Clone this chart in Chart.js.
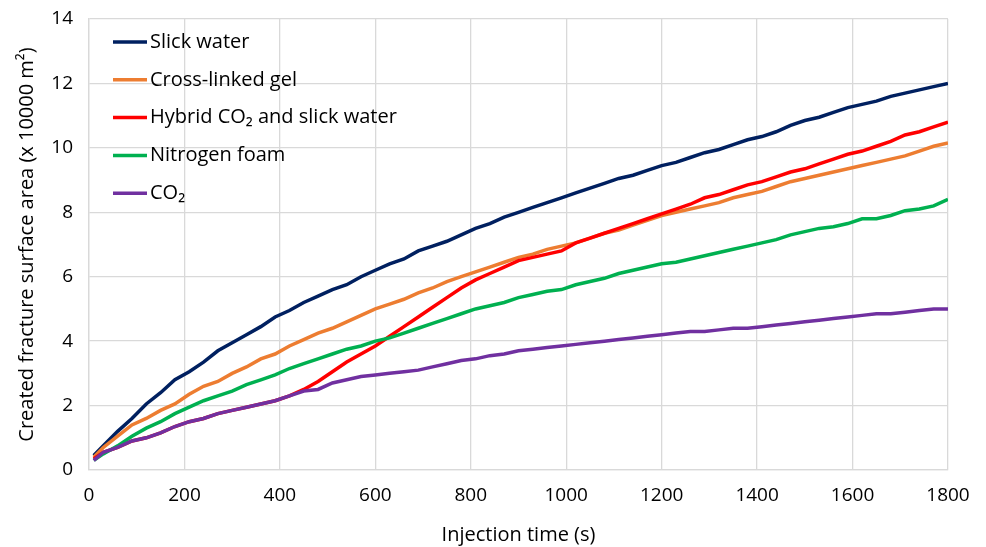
<!DOCTYPE html>
<html>
<head>
<meta charset="utf-8">
<script src="https://cdn.jsdelivr.net/npm/chart.js"></script>
<style>
  html, body { margin: 0; padding: 0; background: #fff; }
  #wrap { width: 986px; height: 547px; }
</style>
</head>
<body>
<div id="wrap"><canvas id="fractureChart"></canvas></div>
<script>
// Injection time (s)
const injectionTime = [10, 30, 60, 90, 120, 150, 180, 210, 240, 270, 300, 330, 360, 390, 420, 450, 480, 510, 540, 570,
  600, 630, 660, 690, 720, 750, 780, 810, 840, 870, 900, 930, 960, 990, 1020, 1050, 1080, 1110, 1140, 1170,
  1200, 1230, 1260, 1290, 1320, 1350, 1380, 1410, 1440, 1470, 1500, 1530, 1560, 1590, 1620, 1650, 1680, 1710, 1740, 1770, 1800];

// Created fracture surface area (x 10000 m2) per fluid
const slickWater = [0.45, 0.75, 1.2, 1.6, 2.05, 2.4, 2.8, 3.05, 3.35, 3.7, 3.95, 4.2, 4.45, 4.75, 4.95, 5.2, 5.4, 5.6, 5.75, 6.0,
  6.2, 6.4, 6.55, 6.8, 6.95, 7.1, 7.3, 7.5, 7.65, 7.85, 8.0, 8.15, 8.3, 8.45, 8.6, 8.75, 8.9, 9.05, 9.15, 9.3,
  9.45, 9.55, 9.7, 9.85, 9.95, 10.1, 10.25, 10.35, 10.5, 10.7, 10.85, 10.95, 11.1, 11.25, 11.35, 11.45, 11.6, 11.7, 11.8, 11.9, 12.0];

const crossLinkedGel = [0.4, 0.7, 1.05, 1.4, 1.6, 1.85, 2.05, 2.35, 2.6, 2.75, 3.0, 3.2, 3.45, 3.6, 3.85, 4.05, 4.25, 4.4, 4.6, 4.8,
  5.0, 5.15, 5.3, 5.5, 5.65, 5.85, 6.0, 6.15, 6.3, 6.45, 6.6, 6.7, 6.85, 6.95, 7.05, 7.2, 7.35, 7.45, 7.6, 7.75,
  7.9, 8.0, 8.1, 8.2, 8.3, 8.45, 8.55, 8.65, 8.8, 8.95, 9.05, 9.15, 9.25, 9.35, 9.45, 9.55, 9.65, 9.75, 9.9, 10.05, 10.15];

const hybridCO2 = [0.35, 0.55, 0.7, 0.9, 1.0, 1.15, 1.35, 1.5, 1.6, 1.75, 1.85, 1.95, 2.05, 2.15, 2.3, 2.5, 2.75, 3.05, 3.35, 3.6,
  3.85, 4.15, 4.45, 4.75, 5.05, 5.35, 5.65, 5.9, 6.1, 6.3, 6.5, 6.6, 6.7, 6.8, 7.05, 7.2, 7.35, 7.5, 7.65, 7.8,
  7.95, 8.1, 8.25, 8.45, 8.55, 8.7, 8.85, 8.95, 9.1, 9.25, 9.35, 9.5, 9.65, 9.8, 9.9, 10.05, 10.2, 10.4, 10.5, 10.65, 10.8];

const nitrogenFoam = [0.3, 0.5, 0.75, 1.05, 1.3, 1.5, 1.75, 1.95, 2.15, 2.3, 2.45, 2.65, 2.8, 2.95, 3.15, 3.3, 3.45, 3.6, 3.75, 3.85,
  4.0, 4.1, 4.25, 4.4, 4.55, 4.7, 4.85, 5.0, 5.1, 5.2, 5.35, 5.45, 5.55, 5.6, 5.75, 5.85, 5.95, 6.1, 6.2, 6.3,
  6.4, 6.45, 6.55, 6.65, 6.75, 6.85, 6.95, 7.05, 7.15, 7.3, 7.4, 7.5, 7.55, 7.65, 7.8, 7.8, 7.9, 8.05, 8.1, 8.2, 8.4];

const co2 = [0.3, 0.55, 0.7, 0.9, 1.0, 1.15, 1.35, 1.5, 1.6, 1.75, 1.85, 1.95, 2.05, 2.15, 2.3, 2.45, 2.5, 2.7, 2.8, 2.9,
  2.95, 3.0, 3.05, 3.1, 3.2, 3.3, 3.4, 3.45, 3.55, 3.6, 3.7, 3.75, 3.8, 3.85, 3.9, 3.95, 4.0, 4.05, 4.1, 4.15,
  4.2, 4.25, 4.3, 4.3, 4.35, 4.4, 4.4, 4.45, 4.5, 4.55, 4.6, 4.65, 4.7, 4.75, 4.8, 4.85, 4.85, 4.9, 4.95, 5.0, 5.0];

const seriesNames = ['Slick water', 'Cross-linked gel', 'Hybrid CO\u2082 and slick water', 'Nitrogen foam', 'CO\u2082'];
const seriesColors = ['#002060', '#ED7D31', '#FF0000', '#00B050', '#7030A0'];
const seriesValues = [slickWater, crossLinkedGel, hybridCO2, nitrogenFoam, co2];

const xTicks = [0, 200, 400, 600, 800, 1000, 1200, 1400, 1600, 1800];

const FONT = "'Open Sans', 'DejaVu Sans', sans-serif";

// Legend drawn inside the plot area, top-left, in dataset order
const insideLegend = {
  id: 'insideLegend',
  afterDatasetsDraw(chart) {
    const ctx = chart.ctx;
    const area = chart.chartArea;
    ctx.save();
    ctx.font = '20px ' + FONT;
    ctx.textBaseline = 'middle';
    ctx.fillStyle = '#000';
    chart.data.datasets.forEach((ds, i) => {
      const y = area.top + 23 + i * 37.8;
      const x0 = area.left + 24;
      ctx.strokeStyle = ds.borderColor;
      ctx.lineWidth = 3.5;
      ctx.beginPath();
      ctx.moveTo(x0, y);
      ctx.lineTo(x0 + 34, y);
      ctx.stroke();
      ctx.fillText(ds.label, x0 + 37, y);
    });
    ctx.restore();
  }
};

const datasets = seriesNames.map((name, i) => ({
  label: name,
  data: injectionTime.map((t, j) => ({ x: t, y: seriesValues[i][j] })),
  borderColor: seriesColors[i],
  backgroundColor: seriesColors[i],
  borderWidth: 3.5,
  pointRadius: 0,
  tension: 0,
  fill: false,
  // later series sit on top of earlier ones
  order: seriesNames.length - i
}));

new Chart(document.getElementById('fractureChart'), {
  type: 'line',
  data: { datasets: datasets },
  plugins: [insideLegend],
  options: {
    responsive: true,
    maintainAspectRatio: false,
    animation: false,
    layout: { padding: { top: 19, right: 38, left: 0, bottom: 0 } },
    plugins: {
      legend: { display: false },
      tooltip: { enabled: false }
    },
    scales: {
      x: {
        type: 'linear',
        min: 0,
        max: 1800,
        afterBuildTicks: (scale) => { scale.ticks = xTicks.map(v => ({ value: v })); },
        afterFit: (scale) => { scale.height = 77; },
        grid: { color: '#d9d9d9', lineWidth: 1.3, drawTicks: false },
        border: { color: '#d9d9d9', width: 1.3 },
        ticks: {
          color: '#000', font: { family: FONT, size: 19 }, padding: 14, maxRotation: 0,
          callback: (v) => String(v)
        },
        title: { display: true, text: 'Injection time (s)', color: '#000', font: { family: FONT, size: 20 }, padding: { top: 2, bottom: 0 } }
      },
      y: {
        min: 0,
        max: 14,
        afterFit: (scale) => {
          scale.width = 89;
          // keep the plot top fixed by the layout padding alone
          scale.paddingTop = 0;
          scale.paddingBottom = 0;
        },
        grid: { color: '#d9d9d9', lineWidth: 1.3, drawTicks: false },
        border: { color: '#d9d9d9', width: 1.3 },
        ticks: { stepSize: 2, color: '#000', font: { family: FONT, size: 19 }, padding: 16 },
        title: { display: true, text: 'Created fracture surface area (x 10000 m\u00B2)', color: '#000', font: { family: FONT, size: 20 }, padding: { top: 15, bottom: 0 } }
      }
    }
  }
});
</script>
</body>
</html>
